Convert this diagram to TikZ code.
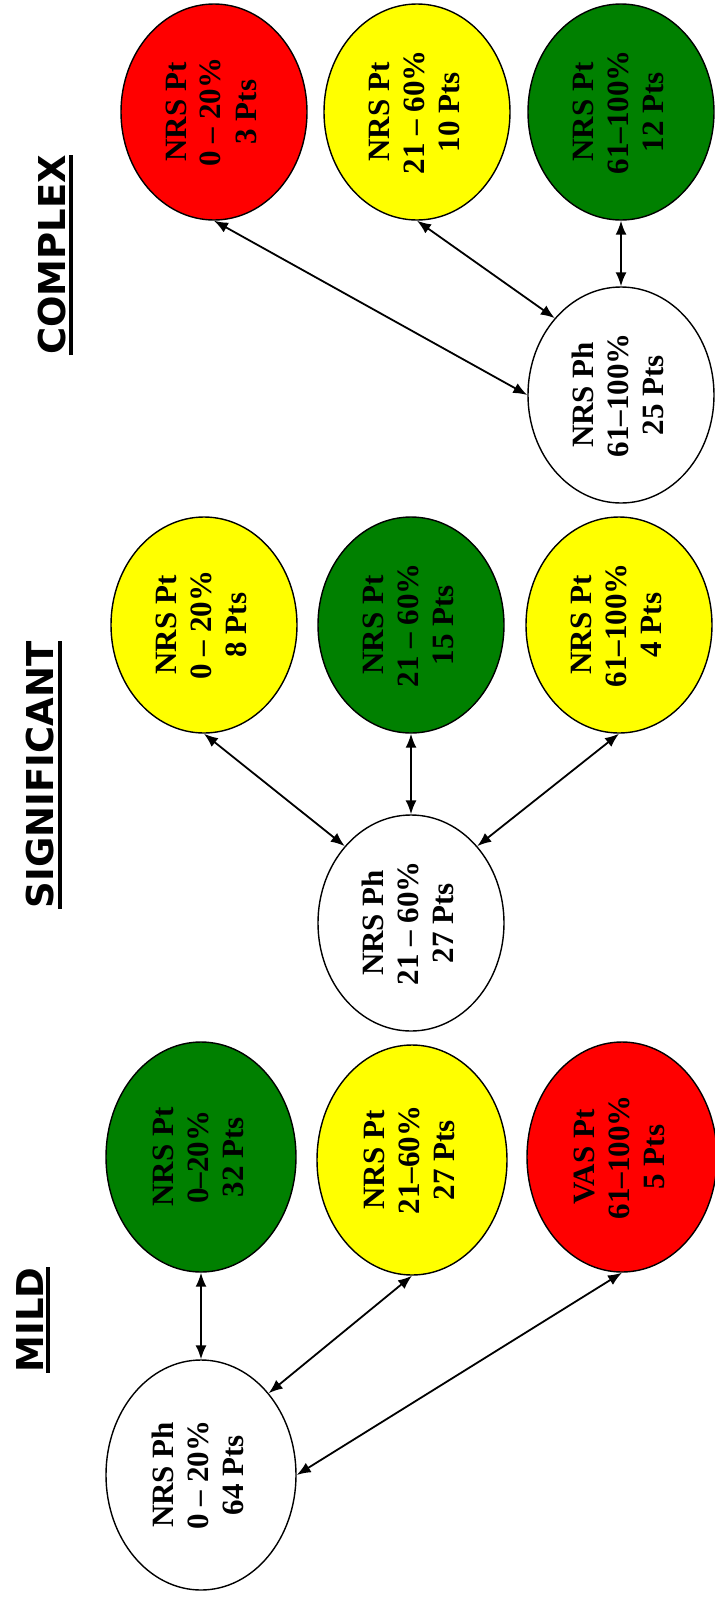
\documentclass[tikz,border=0pt]{standalone}
\usepackage{fontspec}
\setmainfont{Liberation Serif}
\newfontfamily\headfont{DejaVu Sans}
\usepackage{graphicx}
\usetikzlibrary{shapes.geometric,arrows.meta}

\definecolor{nrsred}{RGB}{255,0,0}
\definecolor{nrsyellow}{RGB}{255,255,0}
\definecolor{nrsgreen}{RGB}{0,128,0}

% three lines of text, turned to read upwards
\newcommand{\blab}[3]{\rotatebox{90}{\begin{tabular}{@{}c@{}}#1\\#2\\#3\end{tabular}}}

\tikzset{
  bubble/.style={ellipse, draw, line width=0.7pt, inner sep=0pt,
    minimum width=93pt, minimum height=108pt,
    font=\fontsize{15.5}{17.5}\selectfont\bfseries},
  wide/.style={minimum width=95pt, minimum height=115pt},
  grade/.style={font=\headfont\bfseries\fontsize{18.5}{20}\selectfont,
    rotate=90, inner sep=0pt, outer ysep=2.5pt, anchor=south},
  uline/.style={line width=2pt},
  link/.style={{Latex[length=7pt,width=5.5pt]}-{Latex[length=7pt,width=5.5pt]}, line width=0.9pt},
}

\begin{document}
\begin{tikzpicture}[x=0.5pt, y=-0.5pt]
    \useasboundingbox (0,0) rectangle (714,1601);

    % Titles
    \node[grade] (complex) at (71,255) {COMPLEX};
    \node[grade] (signif) at (59.5,775) {SIGNIFICANT};
    \node[grade] (mild) at (48,1320) {MILD};
    \draw[uline] (complex.south west) -- (complex.south east);
    \draw[uline] (signif.south west) -- (signif.south east);
    \draw[uline] (mild.south west) -- (mild.south east);

    % COMPLEX
    \node[bubble, fill=nrsred] (cpt1) at (214,112) {\blab{NRS Pt}{0 – 20\%}{3 Pts}};
    \node[bubble, fill=nrsyellow] (cpt2) at (417,112) {\blab{NRS Pt}{21 – 60\%}{10 Pts}};
    \node[bubble, fill=nrsgreen] (cpt3) at (621,112) {\blab{NRS Pt}{61–100\%}{12 Pts}};
    \node[bubble, fill=white] (cph) at (621,395) {\blab{NRS Ph}{61–100\%}{25 Pts}};
    \draw[link] (cpt1.south) -- (cph.west);
    \draw[link] (cpt2.south) -- (cph.north west);
    \draw[link] (cpt3.south) -- (cph.north);

    % SIGNIFICANT
    \node[bubble, fill=nrsyellow] (spt1) at (204,625) {\blab{NRS Pt}{0 – 20\%}{8 Pts}};
    \node[bubble, fill=nrsgreen] (spt2) at (411,625) {\blab{NRS Pt}{21 – 60\%}{15 Pts}};
    \node[bubble, fill=nrsyellow] (spt3) at (619,625) {\blab{NRS Pt}{61–100\%}{4 Pts}};
    \node[bubble, fill=white] (sph) at (411,923) {\blab{NRS Ph}{21 – 60\%}{27 Pts}};
    \draw[link] (spt1.south) -- (sph.north west);
    \draw[link] (spt2.south) -- (sph.north);
    \draw[link] (spt3.south) -- (sph.north east);

    % MILD
    \node[bubble, wide, fill=nrsgreen] (mpt1) at (201,1157) {\blab{NRS Pt}{0–20\%}{32 Pts}};
    \node[bubble, wide, fill=nrsyellow] (mpt2) at (412,1160) {\blab{NRS Pt}{21–60\%}{27 Pts}};
    \node[bubble, wide, fill=nrsred] (mpt3) at (622,1157) {\blab{VAS Pt}{61–100\%}{5 Pts}};
    \node[bubble, wide, fill=white] (mph) at (201,1475) {\blab{NRS Ph}{0 – 20\%}{64 Pts}};
    \draw[link] (mpt1.south) -- (mph.north);
    \draw[link] (mpt2.south) -- (mph.north east);
    \draw[link] (mpt3.south) -- (mph.east);
\end{tikzpicture}
\end{document}
